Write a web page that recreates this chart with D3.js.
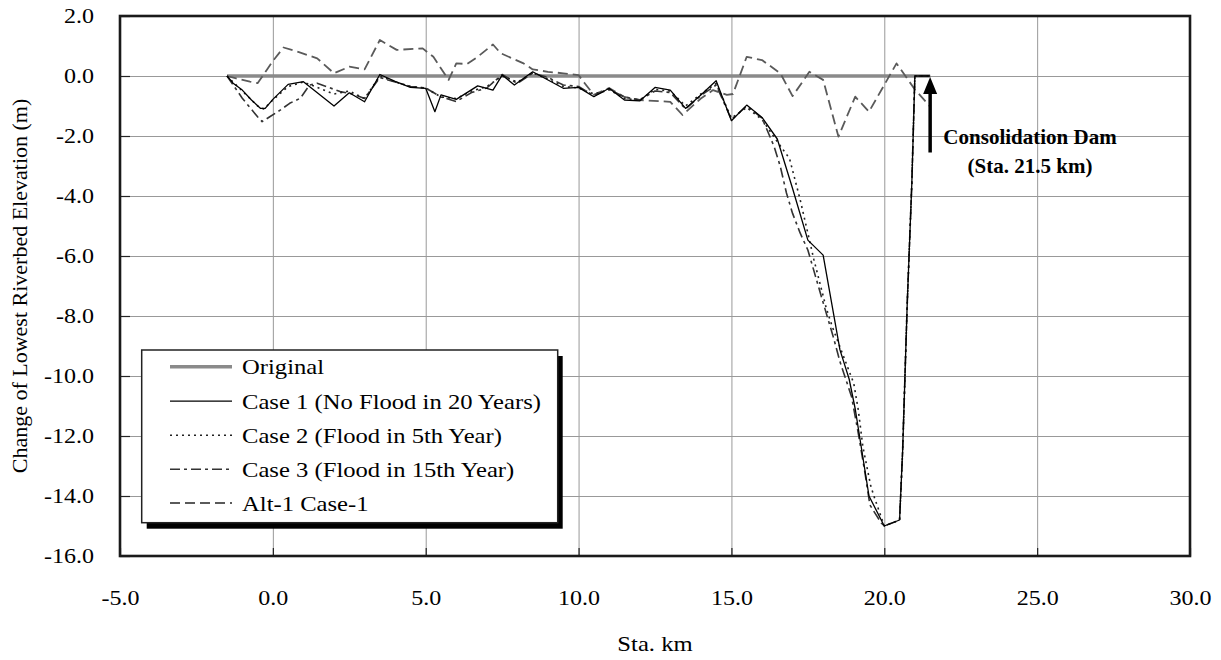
<!DOCTYPE html>
<html><head><meta charset="utf-8">
<script src="https://cdn.jsdelivr.net/npm/d3@7"></script>
<style>
body{margin:0;background:#fff}
svg{display:block}
text{font-family:"Liberation Serif","Times New Roman",serif;fill:#000}
</style>
</head><body>
<svg id="c" width="1221" height="660"></svg>
<script>
// ---------- data ----------
const xTicks = [-5, 0, 5, 10, 15, 20, 25, 30];
const yTicks = [2, 0, -2, -4, -6, -8, -10, -12, -14, -16];
const xTitle = "Sta. km";
const yTitle = "Change of Lowest Riverbed Elevation (m)";
const seriesNames = ["Original", "Case 1 (No Flood in 20 Years)", "Case 2 (Flood in 5th Year)", "Case 3 (Flood in 15th Year)", "Alt-1 Case-1"];
const annotLines = ["Consolidation Dam", "(Sta. 21.5 km)"];
const damStation = 21.5;

const origX = [-1.5, 21.5];
const origY = [0, 0];

const case1X = [-1.5,-1.3,-1.0,-0.7,-0.4,-0.25,0.0,0.2,0.5,1.0,2.0,2.5,3.0,3.5,4.0,4.5,5.0,5.3,5.5,6.0,6.7,7.2,7.5,7.9,8.5,9.5,10.0,10.5,11.0,11.5,12.0,12.5,13.0,13.5,14.0,14.5,15.0,15.5,16.0,16.5,17.0,17.5,18.0,18.55,18.85,19.05,19.5,20.0,20.5,20.6,20.75,20.9,21.0,21.5];
const case1Y = [0,-0.24,-0.47,-0.8,-1.08,-1.08,-0.78,-0.58,-0.28,-0.19,-1.0,-0.56,-0.86,0.05,-0.18,-0.38,-0.41,-1.19,-0.63,-0.78,-0.33,-0.47,0.03,-0.3,0.14,-0.41,-0.38,-0.69,-0.41,-0.8,-0.83,-0.38,-0.47,-1.08,-0.63,-0.16,-1.49,-0.97,-1.38,-2.1,-3.75,-5.47,-5.97,-9.13,-10.1,-11.1,-14.0,-15.0,-14.8,-12.5,-7.6,-3.6,0,0];

const case2X = [-1.5,-1.0,-0.5,-0.3,0.0,0.5,1.0,1.5,2.0,2.5,3.0,3.5,4.0,4.5,5.0,5.5,6.0,6.5,7.0,7.5,8.0,8.5,9.0,9.5,10.0,10.5,11.0,11.5,12.0,12.5,13.0,13.5,14.0,14.5,15.0,15.5,16.0,16.5,16.9,17.25,17.7,18.1,18.3,19.0,19.15,19.3,19.55,19.65,20.0,20.5,20.6,20.75,20.9,21.0,21.5];
const case2Y = [0,-0.5,-1.0,-1.1,-0.8,-0.35,-0.2,-0.4,-0.6,-0.5,-0.75,0.0,-0.2,-0.35,-0.4,-0.7,-0.75,-0.5,-0.35,0.0,-0.2,0.1,-0.1,-0.35,-0.4,-0.6,-0.45,-0.75,-0.8,-0.45,-0.5,-1.0,-0.6,-0.25,-1.4,-1.05,-1.45,-2.19,-2.75,-4.13,-6.13,-7.73,-8.36,-10.24,-11.13,-12.36,-13.63,-13.97,-15.0,-14.8,-12.5,-7.6,-3.6,0,0];

const case3X = [-1.5,-1.0,-0.5,-0.35,-0.1,0.25,0.55,0.9,1.2,1.45,2.2,2.6,3.0,3.5,4.0,4.5,5.0,5.5,6.0,6.5,7.0,7.5,8.0,8.5,9.0,9.5,10.0,10.5,11.0,11.5,12.0,12.5,13.0,13.5,14.0,14.5,15.0,15.5,16.0,16.4,16.6,16.8,17.0,17.25,17.5,18.05,18.33,18.55,18.93,19.15,19.37,19.53,19.9,20.0,20.5,20.6,20.75,20.9,21.0,21.5];
const case3Y = [0,-0.74,-1.36,-1.52,-1.36,-1.13,-0.91,-0.74,-0.3,-0.24,-0.52,-0.6,-0.75,-0.05,-0.2,-0.35,-0.4,-0.7,-0.85,-0.55,-0.4,0.05,-0.25,0.1,-0.05,-0.3,-0.35,-0.65,-0.45,-0.7,-0.8,-0.5,-0.55,-1.1,-0.65,-0.3,-1.45,-1.0,-1.4,-2.36,-3.02,-3.9,-4.58,-5.24,-5.8,-7.73,-8.69,-9.52,-10.69,-11.91,-13.24,-14.3,-14.9,-15.0,-14.8,-12.5,-7.6,-3.6,0,0];

const alt1X = [-1.5,-1.2,-0.75,-0.5,-0.2,0.0,0.35,0.9,1.45,2.0,2.5,3.0,3.5,4.05,4.9,5.25,5.75,6.0,6.35,6.7,7.2,7.45,8.2,8.5,9.0,9.5,10.0,10.2,10.5,11.0,11.5,12.0,13.0,13.4,14.0,14.4,14.85,15.05,15.5,16.0,16.6,17.0,17.55,18.0,18.5,19.05,19.5,20.4,21.0,21.5];
const alt1Y = [0,-0.08,-0.19,-0.24,0.2,0.5,0.95,0.78,0.59,0.09,0.31,0.22,1.2,0.87,0.92,0.64,-0.13,0.42,0.4,0.64,1.05,0.76,0.42,0.22,0.14,0.09,0.03,-0.24,-0.63,-0.4,-0.7,-0.8,-0.86,-1.3,-0.75,-0.47,-0.63,-0.6,0.64,0.53,0.09,-0.67,0.14,-0.13,-2.02,-0.69,-1.19,0.42,-0.45,-1.02];

// ---------- drawing ----------
const W = 1221, H = 660, L = 120, R = 1190, T = 16, B = 556;
const svg = d3.select("#c");
svg.append("rect").attr("width", W).attr("height", H).attr("fill", "#fff");

const x = d3.scaleLinear().domain([-5, 30]).range([L, R]);
const y = d3.scaleLinear().domain([-16, 2]).range([B, T]);
const fmt = d => d.toFixed(1);
const TS = 1.2;   // horizontal text stretch of tick labels
const LS = 1.12;  // horizontal text stretch of other labels

// grid
const gx = svg.append("g").attr("transform", `translate(0,${B})`)
  .call(d3.axisBottom(x).tickValues(xTicks).tickSize(-(B - T)).tickFormat(""));
gx.select(".domain").remove();
gx.selectAll("line").attr("stroke", "#999").attr("stroke-width", 1);
const gy = svg.append("g").attr("transform", `translate(${L},0)`)
  .call(d3.axisLeft(y).tickValues(yTicks).tickSize(-(R - L)).tickFormat(""));
gy.select(".domain").remove();
gy.selectAll("line").attr("stroke", "#999").attr("stroke-width", 1);

// axes with inner ticks and labels
const ax = svg.append("g").attr("transform", `translate(0,${B})`)
  .call(d3.axisBottom(x).tickValues(xTicks).tickSize(-8).tickPadding(35).tickFormat(fmt));
ax.select(".domain").remove();
ax.selectAll("line").attr("stroke", "#222").attr("stroke-width", 1.2);
ax.selectAll("text").attr("font-size", 20).attr("font-family", "Liberation Serif")
  .attr("fill", "#000").attr("transform", `scale(${TS},1)`);

const ay = svg.append("g").attr("transform", `translate(${L},0)`)
  .call(d3.axisLeft(y).tickValues(yTicks).tickSize(-10).tickPadding(26).tickFormat(fmt));
ay.select(".domain").remove();
ay.selectAll("line").attr("stroke", "#222").attr("stroke-width", 1.2);
ay.selectAll("text").attr("font-size", 20).attr("font-family", "Liberation Serif")
  .attr("fill", "#000").attr("x", -26 / TS).attr("transform", `scale(${TS},1)`);

// series
const line = d3.line().x(d => x(d[0])).y(d => y(d[1]));
const styles = [
  {xs: origX, ys: origY, stroke: "#8a8a8a", w: 3.5, dash: null},
  {xs: case1X, ys: case1Y, stroke: "#000", w: 1.3, dash: null},
  {xs: case2X, ys: case2Y, stroke: "#222", w: 1.6, dash: "2,4"},
  {xs: case3X, ys: case3Y, stroke: "#333", w: 1.6, dash: "10,4,3,4"},
  {xs: alt1X, ys: alt1Y, stroke: "#5a5a5a", w: 1.8, dash: "10,5"}
];
const drawOrder = [0, 4, 3, 2, 1];
drawOrder.forEach(i => {
  const s = styles[i];
  svg.append("path").datum(d3.zip(s.xs, s.ys))
    .attr("d", line).attr("fill", "none")
    .attr("stroke", s.stroke).attr("stroke-width", s.w)
    .attr("stroke-dasharray", s.dash).attr("stroke-linejoin", "round");
});

// plot frame
svg.append("rect").attr("x", L).attr("y", T).attr("width", R - L).attr("height", B - T)
  .attr("fill", "none").attr("stroke", "#1a1a1a").attr("stroke-width", 2.6);

// axis titles
svg.append("text").attr("transform", `translate(27,${(T + B) / 2}) rotate(-90)`)
  .attr("text-anchor", "middle").attr("font-size", 22).text(yTitle);
svg.append("text").attr("transform", `translate(${(L + R) / 2},651) scale(${LS},1)`)
  .attr("text-anchor", "middle").attr("font-size", 22).text(xTitle);

// annotation arrow
const ax0 = x(damStation);
svg.append("line").attr("x1", ax0).attr("x2", ax0).attr("y1", y(-2.55)).attr("y2", y(0) + 16)
  .attr("stroke", "#000").attr("stroke-width", 3.5);
svg.append("path").attr("d", `M${ax0},${y(0) + 1} L${ax0 - 7},${y(0) + 18} L${ax0 + 7},${y(0) + 18} Z`)
  .attr("fill", "#000");
svg.append("text").attr("x", 1030).attr("y", 144).attr("text-anchor", "middle")
  .attr("font-size", 21).attr("font-weight", "bold").text(annotLines[0]);
svg.append("text").attr("x", 1030).attr("y", 173).attr("text-anchor", "middle")
  .attr("font-size", 21).attr("font-weight", "bold").text(annotLines[1]);

// legend
const lg = svg.append("g");
const lx = 141.7, ly = 350, lw = 416, lh = 172.7;
lg.append("rect").attr("x", lx + 5).attr("y", ly + 6).attr("width", lw).attr("height", lh).attr("fill", "#000");
lg.append("rect").attr("x", lx).attr("y", ly).attr("width", lw).attr("height", lh)
  .attr("fill", "#fff").attr("stroke", "#222").attr("stroke-width", 1.5);
const rowY = [366.7, 401.2, 435.2, 469.2, 503];
seriesNames.forEach((name, i) => {
  const s = styles[i];
  lg.append("line").attr("x1", 170).attr("x2", 232).attr("y1", rowY[i]).attr("y2", rowY[i])
    .attr("stroke", s.stroke).attr("stroke-width", s.w).attr("stroke-dasharray", s.dash);
  lg.append("text").attr("transform", `translate(242,${rowY[i]}) scale(${LS},1)`)
    .attr("dy", "0.35em").attr("font-size", 22).text(name);
});
</script>
</body></html>
